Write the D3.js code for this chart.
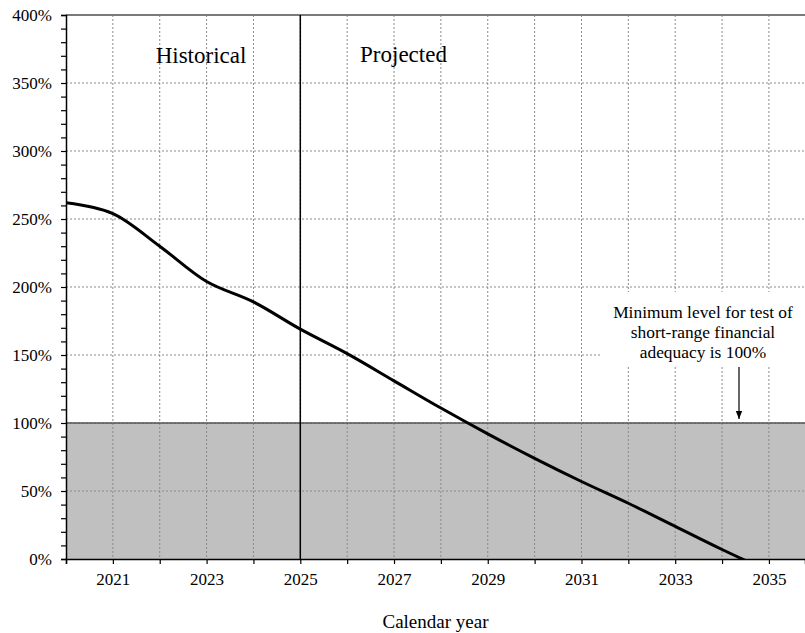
<!DOCTYPE html>
<html><head><meta charset="utf-8">
<script src="https://cdn.jsdelivr.net/npm/d3@7/dist/d3.min.js"></script>
<style>body{margin:0;background:#fff}svg{display:block}svg text{font-family:"Liberation Serif","Times New Roman",serif}</style>
</head><body><svg id="c" width="805" height="633"></svg>
<script>
const years = [2020,2021,2022,2023,2024,2025,2026,2027,2028,2029,2030,2031,2032,2033,2034,2035];
const ratio = [262,254,230,204,189,169,151,131,111,92,74,57,41,24,7,-9];
const xTickLabels = [2021,2023,2025,2027,2029,2031,2033,2035];
const yTicks = [0,50,100,150,200,250,300,350,400];
const threshold = 100;
const splitYear = 2025;
const annotation = ["Minimum level for test of","short-range financial","adequacy is 100%"];

const svg = d3.select("#c");
const L=66, R=805, T=15, B=559;
const x = d3.scaleLinear().domain([2020, 2035.77]).range([L, R]);
const y = d3.scaleLinear().domain([0, 400]).range([B, T]);

svg.append("rect").attr("x",L).attr("y",y(threshold)).attr("width",R-L).attr("height",B-y(threshold)).attr("fill","#c0c0c0");

const g = svg.append("g");
d3.range(2021,2036).forEach(yr=>{
  g.append("line").attr("x1",x(yr)).attr("x2",x(yr)).attr("y1",T).attr("y2",B)
   .attr("stroke","#8a8a8a").attr("stroke-width",1).attr("stroke-dasharray","2,2");
});
yTicks.filter(v=>v>0&&v<400).forEach(v=>{
  g.append("line").attr("x1",L).attr("x2",R).attr("y1",y(v)).attr("y2",y(v))
   .attr("stroke","#8a8a8a").attr("stroke-width",1).attr("stroke-dasharray","2,2");
});
svg.append("line").attr("x1",L).attr("x2",R).attr("y1",y(400)).attr("y2",y(400))
  .attr("stroke","#7a7a7a").attr("stroke-width",2);
svg.append("line").attr("x1",L).attr("x2",R).attr("y1",y(threshold)).attr("y2",y(threshold))
  .attr("stroke","#555").attr("stroke-width",1.3);

svg.append("rect").attr("x",600).attr("y",292).attr("width",205).attr("height",74).attr("fill","#fff");

svg.append("clipPath").attr("id","clip").append("rect").attr("x",L).attr("y",T).attr("width",R-L).attr("height",B-T);

svg.append("line").attr("x1",x(splitYear)).attr("x2",x(splitYear)).attr("y1",T).attr("y2",B)
  .attr("stroke","#000").attr("stroke-width",1.5);

const line = d3.line().x((d,i)=>x(years[i])).y(d=>y(d)).curve(d3.curveCatmullRom.alpha(0.5));
svg.append("path").datum(ratio).attr("d",line).attr("fill","none").attr("stroke","#000")
  .attr("stroke-width",3).attr("clip-path","url(#clip)");

const yAxis = d3.axisLeft(y).tickValues(d3.range(0,401,10)).tickSize(5)
  .tickFormat(d=> yTicks.includes(d) ? d+"%" : "");
const ya = svg.append("g").attr("transform",`translate(${L},0)`).call(yAxis);
ya.select(".domain").attr("stroke","#000").attr("stroke-width",1.5);
ya.selectAll(".tick line").attr("stroke","#000").attr("stroke-width",1.2);
ya.selectAll(".tick text").style("font-family",'"Liberation Serif","Times New Roman",serif')
  .attr("font-size",17).attr("fill","#000").attr("x",-14).attr("dy","0.35em");

const xAxis = d3.axisBottom(x).tickValues(d3.range(2020,2036)).tickSize(5)
  .tickFormat(d=> xTickLabels.includes(d) ? d : "");
const xa = svg.append("g").attr("transform",`translate(0,${B})`).call(xAxis);
xa.select(".domain").attr("stroke","#000").attr("stroke-width",1.5);
xa.selectAll(".tick line").attr("stroke","#000").attr("stroke-width",1.2);
xa.selectAll(".tick text").style("font-family",'"Liberation Serif","Times New Roman",serif')
  .attr("font-size",17).attr("fill","#000").attr("y",26).attr("dy",0);

svg.append("text").attr("x",201).attr("y",63).attr("text-anchor","middle").attr("font-size",23).text("Historical");
svg.append("text").attr("x",403.5).attr("y",62).attr("text-anchor","middle").attr("font-size",23).text("Projected");
svg.append("text").attr("x",(L+R)/2).attr("y",628).attr("text-anchor","middle").attr("font-size",19).text("Calendar year");

const ann = svg.append("text").attr("text-anchor","middle").attr("font-size",17.4);
annotation.forEach((t,i)=> ann.append("tspan").attr("x",703).attr("y",318+i*20).text(t));

svg.append("defs").append("marker").attr("id","ah").attr("viewBox","0 0 10 10").attr("refX",10).attr("refY",5)
  .attr("markerWidth",7).attr("markerHeight",7).attr("orient","auto")
  .append("path").attr("d","M0,1 L10,5 L0,9 z").attr("fill","#000");
svg.append("line").attr("x1",739).attr("x2",739).attr("y1",367).attr("y2",419)
  .attr("stroke","#000").attr("stroke-width",1.2).attr("marker-end","url(#ah)");
</script></body></html>
